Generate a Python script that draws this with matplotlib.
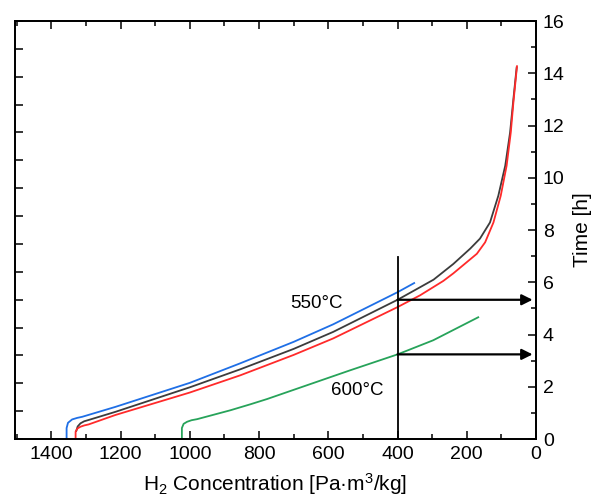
import matplotlib
matplotlib.use('Agg')
import matplotlib.pyplot as plt
from matplotlib.ticker import MultipleLocator

plt.rcParams['font.family'] = ['Liberation Sans', 'DejaVu Sans']
plt.rcParams['mathtext.fontset'] = 'custom'
plt.rcParams['mathtext.rm'] = 'Liberation Sans'
plt.rcParams['mathtext.it'] = 'Liberation Sans:italic'

# H2 concentration [Pa m3/kg] vs time [h]
blue_x = [1356, 1356, 1352, 1340, 1325, 1311, 1215, 1000, 854, 700, 586, 400, 352]
blue_t = [0.0, 0.42, 0.62, 0.75, 0.81, 0.85, 1.23, 2.15, 2.90, 3.72, 4.39, 5.62, 5.97]

black_x = [1328, 1324, 1316, 1305, 1292, 1215, 1000, 854, 700, 586, 400, 335, 296,
           239, 190, 162, 133, 109, 89, 75, 65.5, 56]
black_t = [0.31, 0.48, 0.60, 0.68, 0.73, 1.04, 1.98, 2.67, 3.45, 4.10, 5.33, 5.81, 6.10,
           6.70, 7.29, 7.67, 8.29, 9.31, 10.46, 11.73, 13.00, 14.22]

red_x = [1330, 1330, 1325, 1316, 1305, 1292, 1215, 1000, 854, 700, 586, 400, 335, 268,
         239, 171, 147, 123, 102, 85, 73, 65.5, 55]
red_t = [0.0, 0.28, 0.40, 0.47, 0.52, 0.56, 0.92, 1.78, 2.44, 3.22, 3.85, 5.05, 5.50, 6.05,
         6.34, 7.09, 7.53, 8.29, 9.31, 10.46, 11.73, 12.87, 14.27]

green_x = [1023, 1023, 1018, 1008, 995, 979, 883, 825, 777, 633, 537, 400, 297, 167]
green_t = [0.0, 0.42, 0.58, 0.66, 0.72, 0.76, 1.10, 1.33, 1.53, 2.19, 2.63, 3.24, 3.78, 4.66]

ref_conc = 400
t_550 = 5.33
t_600 = 3.24

fig = plt.figure(figsize=(5.91, 5.03), dpi=100)
ax = fig.add_axes([0.0254, 0.1272, 0.8816, 0.8310])

# left spine carries its own unlabeled ticks (set up before the main y axis,
# since twinx moves the host ticks to the left)
axl = ax.twinx()
axl.set_ylim(0, 15)
axl.yaxis.tick_left()
axl.yaxis.set_major_locator(MultipleLocator(1))
axl.tick_params(which='both', direction='in', length=6, width=1.1,
                labelleft=False, labelright=False, right=False)

ax.plot(blue_x, blue_t, color='#1f6fe6', lw=1.3)
ax.plot(black_x, black_t, color='#3c3c3c', lw=1.3)
ax.plot(red_x, red_t, color='#ff2a2a', lw=1.3)
ax.plot(green_x, green_t, color='#27a35a', lw=1.3)

# reference line at 400 and read-off arrows to the time axis
ax.plot([ref_conc, ref_conc], [0, 6.95], color='black', lw=1.3)
for t in (t_550, t_600):
    ax.annotate('', xy=(10, t), xytext=(ref_conc, t),
                arrowprops=dict(arrowstyle='-|>', color='black', lw=1.6,
                                mutation_scale=16, shrinkA=0, shrinkB=0))

ax.text(633, 5.19, '550°C', fontsize=13.5, ha='center', va='center')
ax.text(517, 1.87, '600°C', fontsize=13.5, ha='center', va='center')

ax.set_xlim(1505, 0)
ax.set_ylim(0, 16)
ax.xaxis.set_major_locator(MultipleLocator(200))
ax.xaxis.set_minor_locator(MultipleLocator(100))
ax.yaxis.set_major_locator(MultipleLocator(2))
ax.yaxis.set_minor_locator(MultipleLocator(1))
ax.yaxis.tick_right()
ax.yaxis.set_label_position('right')
ax.tick_params(which='both', direction='in', top=True, right=True, left=False,
               labelleft=False, labelright=True, labelsize=14, width=1.1, pad=5)
ax.tick_params(which='major', length=6)
ax.tick_params(which='minor', length=3.5)

for a in (ax, axl):
    for s in a.spines.values():
        s.set_linewidth(1.3)

ax.set_xlabel('H$_2$ Concentration [Pa·m$^3$/kg]', fontsize=15, labelpad=6)
ax.set_ylabel('Time [h]', fontsize=15, labelpad=6)

fig.savefig('out.png', dpi=100)
